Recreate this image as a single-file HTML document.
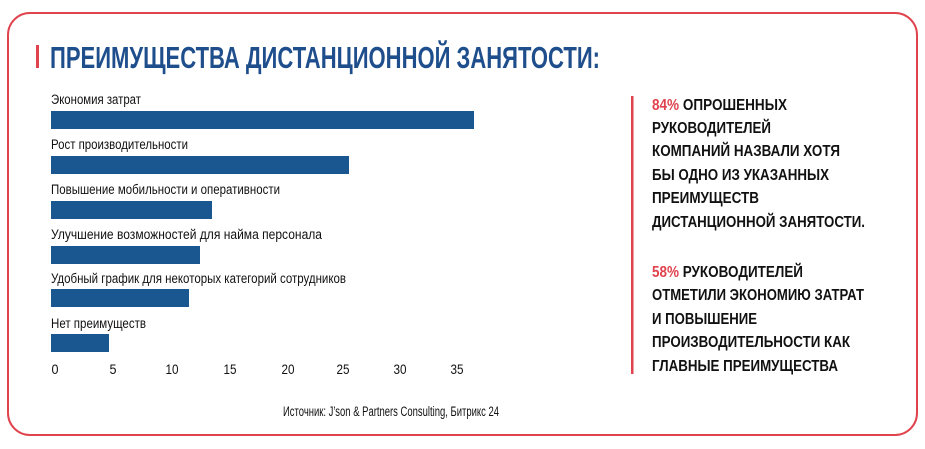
<!DOCTYPE html>
<html><head><meta charset="utf-8"><style>
html,body{margin:0;padding:0;background:#fff;}
svg{display:block;}
text{font-family:"Liberation Sans",sans-serif;}
</style></head><body>
<svg width="925" height="449" viewBox="0 0 925 449" xmlns="http://www.w3.org/2000/svg">
<rect x="8" y="13" width="909" height="422" rx="22" ry="22" fill="none" stroke="#e0434e" stroke-width="2"/>
<rect x="36" y="45" width="3" height="23" fill="#e0434e"/>
<text x="50" y="68" font-size="31" font-weight="bold" fill="#1f4e8c" textLength="550" lengthAdjust="spacingAndGlyphs">ПРЕИМУЩЕСТВА ДИСТАНЦИОННОЙ ЗАНЯТОСТИ:</text>
<g font-size="13.5" fill="#111">
<text x="51" y="104" textLength="90" lengthAdjust="spacingAndGlyphs">Экономия затрат</text>
<text x="51" y="149" textLength="137" lengthAdjust="spacingAndGlyphs">Рост производительности</text>
<text x="51" y="194" textLength="229" lengthAdjust="spacingAndGlyphs">Повышение мобильности и оперативности</text>
<text x="51" y="239" textLength="271" lengthAdjust="spacingAndGlyphs">Улучшение возможностей для найма персонала</text>
<text x="51" y="283" textLength="295" lengthAdjust="spacingAndGlyphs">Удобный график для некоторых категорий сотрудников</text>
<text x="51" y="328" textLength="95" lengthAdjust="spacingAndGlyphs">Нет преимуществ</text>
</g>
<g fill="#1a5790">
<rect x="51" y="111" width="423" height="18"/>
<rect x="51" y="156" width="298" height="18"/>
<rect x="51" y="201" width="161" height="18"/>
<rect x="51" y="246" width="149" height="18"/>
<rect x="51" y="289" width="138" height="18"/>
<rect x="51" y="334" width="58" height="18"/>
</g>
<g font-size="14" fill="#111" text-anchor="middle">
<text x="55" y="374" textLength="7" lengthAdjust="spacingAndGlyphs">0</text>
<text x="113" y="374" textLength="7" lengthAdjust="spacingAndGlyphs">5</text>
<text x="172" y="374" textLength="13" lengthAdjust="spacingAndGlyphs">10</text>
<text x="230" y="374" textLength="13" lengthAdjust="spacingAndGlyphs">15</text>
<text x="288" y="374" textLength="13" lengthAdjust="spacingAndGlyphs">20</text>
<text x="343" y="374" textLength="13" lengthAdjust="spacingAndGlyphs">25</text>
<text x="400" y="374" textLength="13" lengthAdjust="spacingAndGlyphs">30</text>
<text x="457" y="374" textLength="13" lengthAdjust="spacingAndGlyphs">35</text>
</g>
<text x="283" y="416" font-size="13.5" fill="#111" textLength="216" lengthAdjust="spacingAndGlyphs">Источник: J’son &amp; Partners Consulting, Битрикс 24</text>
<rect x="631" y="96" width="2.5" height="278" fill="#e0434e"/>
<g font-size="16" font-weight="bold" fill="#111">
<text x="652" y="110" textLength="135" lengthAdjust="spacingAndGlyphs"><tspan fill="#e0434e">84%</tspan> ОПРОШЕННЫХ</text>
<text x="652" y="133" textLength="119" lengthAdjust="spacingAndGlyphs">РУКОВОДИТЕЛЕЙ</text>
<text x="652" y="156" textLength="188" lengthAdjust="spacingAndGlyphs">КОМПАНИЙ НАЗВАЛИ ХОТЯ</text>
<text x="652" y="180" textLength="177" lengthAdjust="spacingAndGlyphs">БЫ ОДНО ИЗ УКАЗАННЫХ</text>
<text x="652" y="203" textLength="107" lengthAdjust="spacingAndGlyphs">ПРЕИМУЩЕСТВ</text>
<text x="652" y="227" textLength="213" lengthAdjust="spacingAndGlyphs">ДИСТАНЦИОННОЙ ЗАНЯТОСТИ.</text>
<text x="652" y="277" textLength="151" lengthAdjust="spacingAndGlyphs"><tspan fill="#e0434e">58%</tspan> РУКОВОДИТЕЛЕЙ</text>
<text x="652" y="300" textLength="212" lengthAdjust="spacingAndGlyphs">ОТМЕТИЛИ ЭКОНОМИЮ ЗАТРАТ</text>
<text x="652" y="324" textLength="105" lengthAdjust="spacingAndGlyphs">И ПОВЫШЕНИЕ</text>
<text x="652" y="347" textLength="198" lengthAdjust="spacingAndGlyphs">ПРОИЗВОДИТЕЛЬНОСТИ КАК</text>
<text x="652" y="371" textLength="186" lengthAdjust="spacingAndGlyphs">ГЛАВНЫЕ ПРЕИМУЩЕСТВА</text>
</g>
</svg>
</body></html>
